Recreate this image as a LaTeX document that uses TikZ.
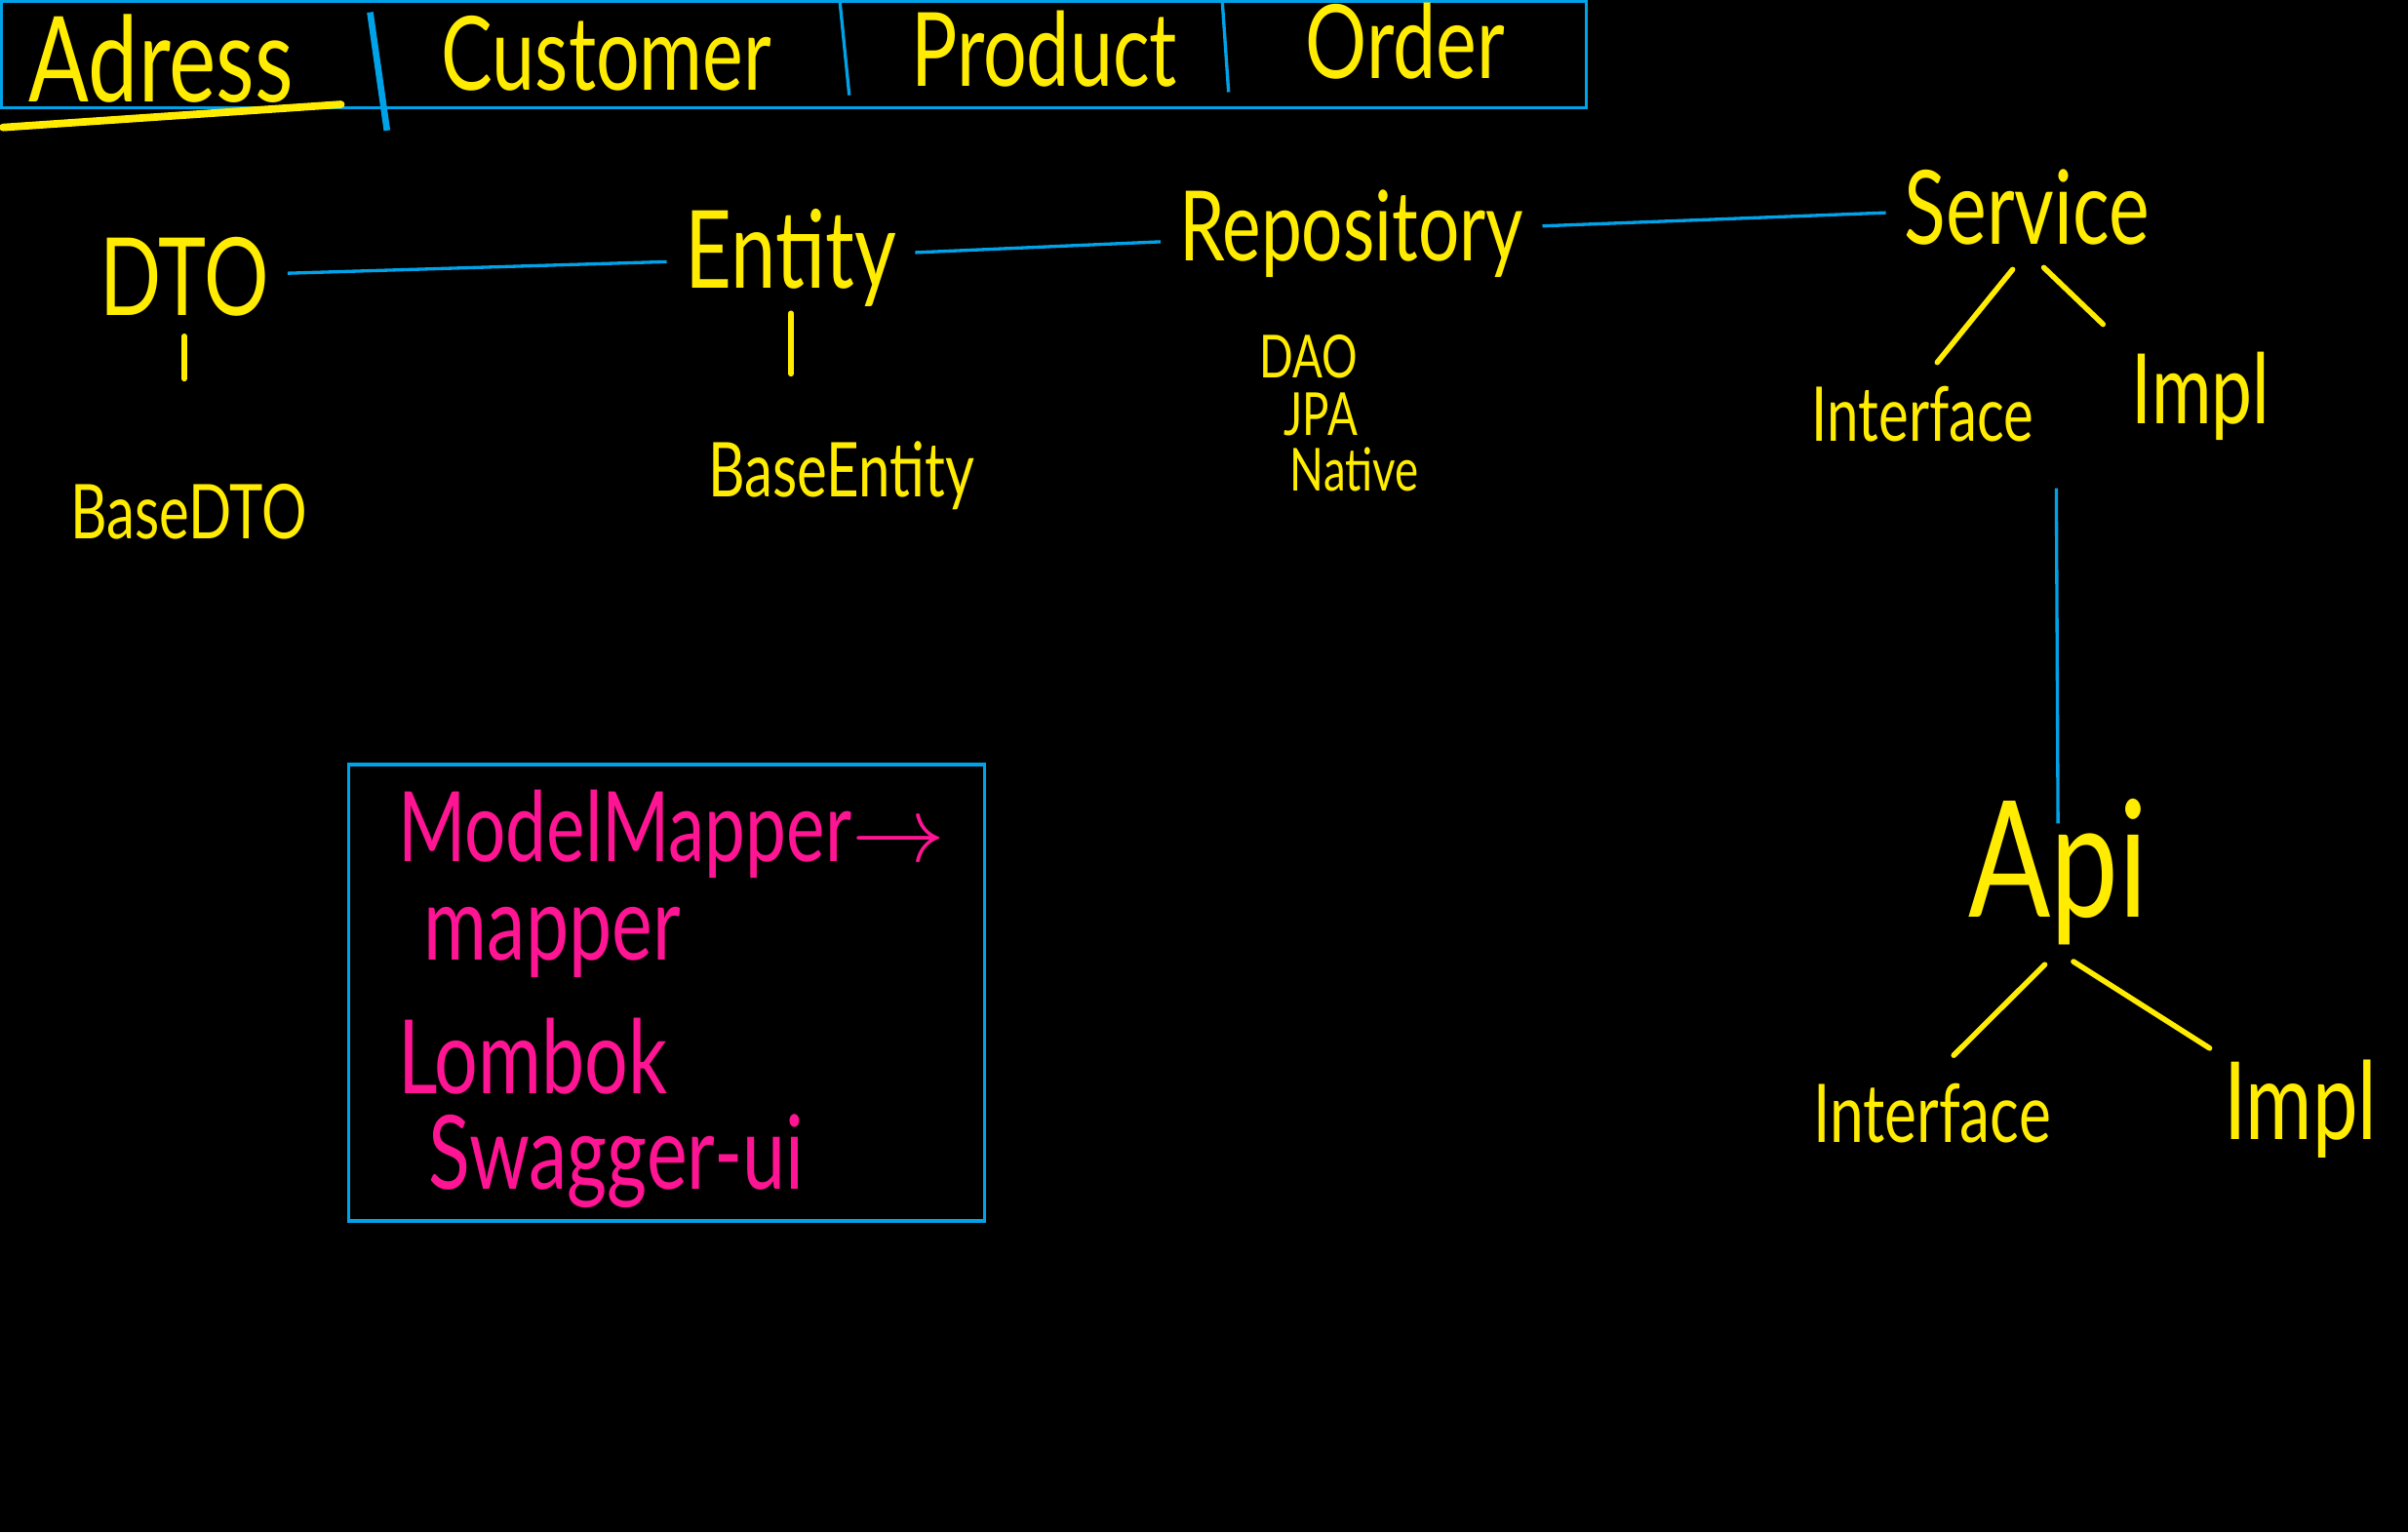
\documentclass[tikz,border=0pt]{standalone}
\usepackage{fontspec}
\setmainfont{Lato}[FakeStretch=0.75]
\definecolor{hwyellow}{RGB}{255,236,0}
\definecolor{hwblue}{RGB}{0,162,232}
\definecolor{hwpink}{RGB}{255,20,147}
\tikzset{
  word/.style={text=hwyellow, inner sep=1pt, font=\fontsize{20}{22}\selectfont},
  small/.style={word, font=\fontsize{14}{16}\selectfont},
  tiny/.style={word, font=\fontsize{11}{13}\selectfont},
  head/.style={word, font=\fontsize{19}{21}\selectfont},
  pinkword/.style={text=hwpink, inner sep=1pt, anchor=west, font=\fontsize{19}{21}\selectfont},
  link/.style={draw=hwblue, line width=0.6pt, shorten <=0.08cm, shorten >=0.08cm},
  stroke/.style={draw=hwyellow, line width=1pt, line cap=round}
}
\begin{document}
\begin{tikzpicture}[x=0.01cm,y=-0.01cm]
\fill[black] (0,0) rectangle (1568,998);
\useasboundingbox (0,0) rectangle (1568,998);

% header
\draw[draw=hwblue, line width=0.6pt] (1,1) rectangle (1033,70);
\draw[draw=hwblue, line width=1.2pt] (241,8) -- (252,85);
\draw[draw=hwblue, line width=0.6pt] (547,2) -- (553,62);
\draw[draw=hwblue, line width=0.6pt] (796,2) -- (800,60);
\draw[stroke, line width=1.4pt] (2,83) -- (222,68);
\node[head, font=\fontsize{22}{24}\selectfont] (adress) at (105,38) {Adress};
\node[head] (customer) at (395,35) {Customer};
\node[head] (product) at (680,32) {Product};
\node[head] (order) at (915,27) {Order};

% layers
\node[word] (dto) at (120,180) {DTO};
\node[small] (basedto) at (123,333) {BaseDTO};
\node[word] (entity) at (515,168) {Entity};
\node[small] (baseentity) at (548,310) {BaseEntity};
\node[word, font=\fontsize{18}{20}\selectfont] (repo) at (880,152) {Repository};
\node[tiny] (dao) at (852,232) {DAO};
\node[tiny] (jpa) at (860,270) {JPA};
\node[tiny] (native) at (882,306) {Native};
\node[word, font=\fontsize{19}{21}\selectfont] (service) at (1320,135) {Service};
\node[small] (sintf) at (1252,270) {Interface};
\node[word, font=\fontsize{18}{20}\selectfont] (simpl) at (1433,258) {Impl};
\node[word, font=\fontsize{30}{32}\selectfont] (api) at (1340,568) {Api};
\node[small, font=\fontsize{15}{17}\selectfont] (aintf) at (1258,725) {Interface};
\node[word] (aimpl) at (1498,722) {Impl};
\coordinate (svcdrop) at (1339,318);

\path[link] (dto) -- (entity);
\path[link] (entity) -- (repo);
\path[link] (repo) -- (service);
\path[link, shorten <=0cm, shorten >=-0.2cm] (svcdrop) -- (api.north);

\path[stroke, shorten <=0.09cm, shorten >=0.64cm] (dto.south) -- (dto.south |- basedto.north);
\path[stroke, shorten <=0.0cm, shorten >=0.4cm] (entity.south) -- (entity.south |- baseentity.north);
\path[stroke, shorten <=0.15cm, shorten >=0.15cm] (service.south) -- (sintf.north);
\path[stroke, shorten <=0.15cm, shorten >=0.2cm] (service.south) -- (simpl.north west);
\path[stroke, shorten <=0.12cm, shorten >=0.2cm] (api.south) -- (aintf.north);
\path[stroke, shorten <=0.12cm, shorten >=0.06cm] (api.south) -- (aimpl.north west);

% libraries
\node[draw=hwblue, line width=0.6pt, minimum width=4.14cm, minimum height=2.97cm] (libs) at (434,646.5) {};
\node[pinkword, font=\fontsize{18}{20}\selectfont] (modelmapper) at (255,543) {ModelMapper$\rightarrow$};
\node[pinkword] (mapper) at (272,614) {mapper};
\node[pinkword] (lombok) at (255,688) {Lombok};
\node[pinkword] (swagger) at (275,756) {Swagger-ui};
\end{tikzpicture}
\end{document}
